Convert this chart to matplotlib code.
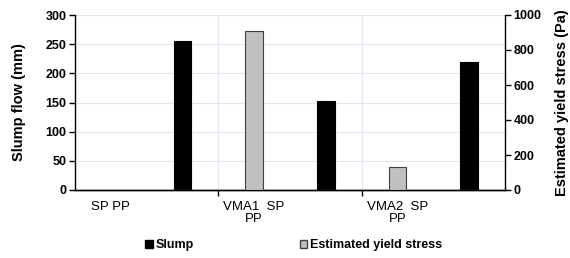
import numpy as np
import matplotlib
matplotlib.use("Agg")
import matplotlib.pyplot as plt
from matplotlib.patches import Patch

plt.rcParams['font.family'] = ['Liberation Sans', 'DejaVu Sans']

categories = ["SP PP", "VMA1  SP\nPP", "VMA2  SP\nPP"]
slump = [256, 152, 219]
yield_stress = [np.nan, 910, 133]
left_ticks = [0, 50, 100, 150, 200, 250, 300]
right_ticks = [0, 200, 400, 600, 800, 1000]

fig = plt.figure(figsize=(5.7, 2.58), dpi=100)
ax = fig.add_axes([75/570, 1-190/258, (505-75)/570, (190-15)/258])
ax2 = ax.twinx()

x = np.arange(len(categories))
w = 0.125
ax.bar(x + 0.25, slump, width=w, color='black', edgecolor='black', linewidth=0.8, zorder=3)
ax2.bar(x - 0.25, yield_stress, width=w, color='#c0c0c0', edgecolor='#404040', linewidth=0.8, zorder=3)

ax.set_xlim(-0.5, len(categories) - 0.5)
ax.set_ylim(0, 300)
ax2.set_ylim(0, 1000)
ax.set_yticks(left_ticks)
ax2.set_yticks(right_ticks)

bounds = np.arange(len(categories) - 1) + 0.5
ax.set_xticks(bounds)
ax.set_xticklabels([])
ax.tick_params(axis='x', which='major', length=4, direction='out', width=1)
ax.set_xticks(x - 0.25, minor=True)
ax.set_xticklabels(categories, minor=True, fontsize=9.5, linespacing=1.0)
ax.tick_params(axis='x', which='minor', length=0, pad=8)

ax.grid(True, axis='both', which='major', color='#dfe7f1', linewidth=0.8, zorder=0)
ax.set_axisbelow(True)

for a in (ax, ax2):
    a.spines['top'].set_visible(False)
    a.spines['left'].set_linewidth(1.0)
    a.spines['right'].set_linewidth(1.0)
    a.spines['bottom'].set_linewidth(1.0)
ax2.spines['left'].set_visible(False)
ax.spines['right'].set_visible(False)

ax.tick_params(axis='y', length=4, width=1, labelsize=9, pad=2)
ax2.tick_params(axis='y', length=4, width=1, labelsize=9, pad=2)
for lbl in ax.get_yticklabels() + ax2.get_yticklabels():
    lbl.set_fontweight('bold')

ax.set_ylabel("Slump flow (mm)", fontsize=10.5, fontweight='bold', labelpad=14)
ax2.set_ylabel("Estimated yield stress (Pa)", fontsize=10.5, fontweight='bold', labelpad=9.5)

handles = [Patch(facecolor='black', edgecolor='black'),
           Patch(facecolor='#c0c0c0', edgecolor='#404040')]
leg = fig.legend(handles, ["Slump", "Estimated yield stress"], loc='center',
                 bbox_to_anchor=(0.515, 1-245/258), ncol=2, frameon=False,
                 prop={'weight': 'bold', 'size': 9}, handlelength=0.6, handleheight=0.6,
                 handletextpad=0.2, columnspacing=8.5)

fig.savefig("out.png", dpi=100)
